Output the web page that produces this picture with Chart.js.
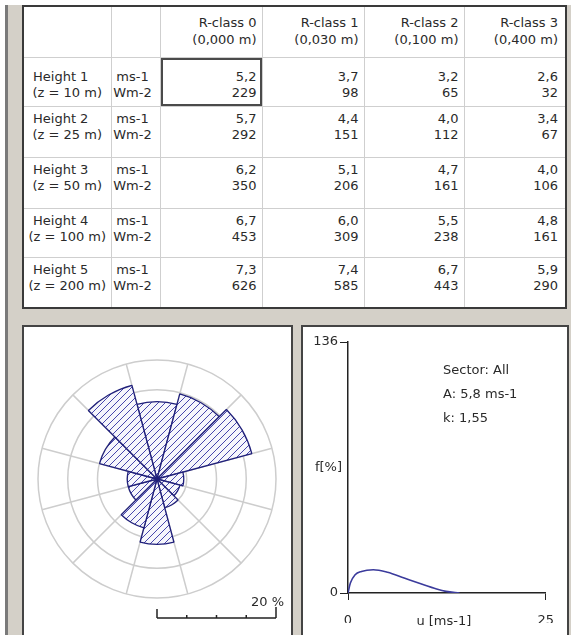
<!DOCTYPE html>
<html>
<head>
<meta charset="utf-8">
<script src="https://cdn.jsdelivr.net/npm/chart.js@4.4.1/dist/chart.umd.min.js"></script>
<style>
body { margin:0; width:571px; height:635px; background:#fff; position:relative; overflow:hidden;
       font-family:"DejaVu Sans", sans-serif; font-size:13px; color:#2a2a2a; }
#frame { position:absolute; left:5px; top:5px; width:563px; height:630px; background:#d4d0c8; border-left:3px solid #7a7a7a; }
#tbl { position:absolute; left:22px; top:5px; border:2px solid #3a3a3a; background:#fff;
       border-collapse:collapse; table-layout:fixed; }
#tbl td { border:1px solid #cfcfcf; padding:0; vertical-align:top; line-height:16px; overflow:hidden; white-space:nowrap; }
#tbl td.num { text-align:right; padding-right:5px; }
#tbl td.last { padding-right:7px; }
#tbl tr.head td { line-height:17px; padding-top:7px; }
#tbl td.unit { text-align:center; padding-right:6px; }
#tbl td.sel { box-shadow: inset 0 0 0 2px #4a4a4a; }
.hname { padding-left:9px; }
.hz { text-align:center; }
.panel { position:absolute; top:325px; height:310px; background:#fff; border-top:2px solid #444; border-left:2px solid #444; border-right:2px solid #444; box-sizing:border-box; }
#roseBox { left:22px; width:271px; }
#weibBox { left:301px; width:268px; }
canvas { position:absolute; left:0; top:0; }
</style>
</head>
<body>
<div id="frame"></div>
<table id="tbl"></table>
<div class="panel" id="roseBox"><canvas id="rose" width="267" height="308"></canvas></div>
<div class="panel" id="weibBox"><canvas id="weibull" width="264" height="308"></canvas></div>
<script>
// table values
var heightNames = ['Height 1', 'Height 2', 'Height 3', 'Height 4', 'Height 5'];
var heightZ = ['(z = 10 m)', '(z = 25 m)', '(z = 50 m)', '(z = 100 m)', '(z = 200 m)'];
var rClasses = ['R-class 0', 'R-class 1', 'R-class 2', 'R-class 3'];
var rLengths = ['(0,000 m)', '(0,030 m)', '(0,100 m)', '(0,400 m)'];
var speedUnit = 'ms-1';
var powerUnit = 'Wm-2';
var meanSpeed = [
    [5.2, 3.7, 3.2, 2.6],
    [5.7, 4.4, 4.0, 3.4],
    [6.2, 5.1, 4.7, 4.0],
    [6.7, 6.0, 5.5, 4.8],
    [7.3, 7.4, 6.7, 5.9]
];
var powerDensity = [
    [229, 98, 65, 32],
    [292, 151, 112, 67],
    [350, 206, 161, 106],
    [453, 309, 238, 161],
    [626, 585, 443, 290]
];

// wind rose: 12 sectors clockwise from north, frequency in %
var sectors = ['0', '30', '60', '90', '120', '150', '180', '210', '240', '270', '300', '330'];
var sectorFreq = [13, 14.8, 16.5, 4.5, 4, 5, 11, 8.5, 5, 5, 10, 16.3];
var roseRings = [5, 10, 15, 20];
var barLabel = '20 %';

// weibull curve
var uSpeed = [0, 0.3, 0.9, 1.7, 3.2, 5.0, 7.1, 9.2, 11.2, 12.4, 14.1];
var fPct = [0, 5.4, 9.9, 11.7, 12.6, 11.2, 8.1, 5.0, 2.2, 0.9, 0];
var xTicks = [0, 25];
var yTicks = [0, 136];
var weibText = ['Sector: All', 'A: 5,8 ms-1', 'k: 1,55'];

var colW = [88, 49, 102, 102, 100, 102];
var rowH = [51, 49, 51, 51, 49, 51];
var font = '13px "DejaVu Sans"';
var ink = '#2a2a2a';

function fmt(v) { return v.toFixed(1).replace('.', ','); }

function buildTable() {
    var t = document.getElementById('tbl');
    var html = '<colgroup>';
    colW.forEach(function (w) { html += '<col style="width:' + w + 'px">'; });
    html += '</colgroup><tr class="head" style="height:' + rowH[0] + 'px"><td></td><td></td>';
    rClasses.forEach(function (c, j) {
        html += '<td class="num' + (j == 3 ? ' last' : '') + '">' + c + '<br>' + rLengths[j] + '</td>';
    });
    html += '</tr>';
    heightNames.forEach(function (h, i) {
        var pt = i == 0 ? 11 : 4;
        html += '<tr style="height:' + rowH[i + 1] + 'px">';
        html += '<td style="padding-top:' + pt + 'px"><div class="hname">' + h + '</div><div class="hz">' + heightZ[i] + '</div></td>';
        html += '<td class="unit" style="padding-top:' + pt + 'px">' + speedUnit + '<br>' + powerUnit + '</td>';
        for (var j = 0; j < rClasses.length; j++) {
            var cls = 'num' + (j == 3 ? ' last' : '') + (i == 0 && j == 0 ? ' sel' : '');
            html += '<td class="' + cls + '" style="padding-top:' + pt + 'px">' + fmt(meanSpeed[i][j]) + '<br>' + powerDensity[i][j] + '</td>';
        }
        html += '</tr>';
    });
    t.innerHTML = html;
}

function hatch() {
    var c = document.createElement('canvas');
    c.width = 7; c.height = 7;
    var g = c.getContext('2d');
    g.fillStyle = '#f6f6fc';
    g.fillRect(0, 0, 7, 7);
    g.strokeStyle = '#4646ac';
    g.lineWidth = 1;
    g.beginPath();
    g.moveTo(0, 7); g.lineTo(7, 0);
    g.moveTo(-1, 1); g.lineTo(1, -1);
    g.moveTo(6, 8); g.lineTo(8, 6);
    g.stroke();
    return g.createPattern(c, 'repeat');
}

var scaleBar = {
    id: 'scaleBar',
    afterDraw: function (chart) {
        var r = chart.scales.r, ctx = chart.ctx;
        var y = chart.height - 17;
        var x0 = r.xCenter;
        var x1 = r.xCenter + r.getDistanceFromCenterForValue(roseRings[roseRings.length - 1]);
        ctx.save();
        ctx.strokeStyle = '#222';
        ctx.lineWidth = 1.5;
        ctx.beginPath();
        ctx.moveTo(x0, y); ctx.lineTo(x1, y);
        ctx.moveTo(x0, y); ctx.lineTo(x0, y - 9);
        roseRings.forEach(function (v, i) {
            var x = r.xCenter + r.getDistanceFromCenterForValue(v);
            var h = i == roseRings.length - 1 ? 11 : 3;
            ctx.moveTo(x, y); ctx.lineTo(x, y - h);
        });
        ctx.stroke();
        ctx.fillStyle = ink;
        ctx.font = font;
        ctx.textAlign = 'right';
        ctx.textBaseline = 'middle';
        ctx.fillText(barLabel, x1 + 8, y - 15);
        ctx.restore();
    }
};

function makeRose() {
    new Chart(document.getElementById('rose'), {
        type: 'polarArea',
        data: {
            labels: sectors,
            datasets: [{
                data: sectorFreq,
                backgroundColor: hatch(),
                borderColor: '#20207a',
                borderWidth: 1.3
            }]
        },
        options: {
            responsive: false,
            animation: false,
            layout: { padding: { left: 14, right: 15, top: 33, bottom: 37 } },
            plugins: { legend: { display: false }, tooltip: { enabled: false } },
            scales: {
                r: {
                    min: 0,
                    max: 20,
                    startAngle: -15,
                    ticks: { display: false, stepSize: 5 },
                    grid: { color: '#cdcdcd', lineWidth: 1.5, circular: true },
                    angleLines: { display: true, color: '#cdcdcd', lineWidth: 1.5 },
                    pointLabels: { display: false }
                }
            }
        },
        plugins: [scaleBar]
    });
}

var weibLabels = {
    id: 'weibLabels',
    afterDraw: function (chart) {
        var ctx = chart.ctx, a = chart.chartArea;
        ctx.save();
        ctx.fillStyle = ink;
        ctx.font = font;
        ctx.textBaseline = 'middle';
        ctx.textAlign = 'left';
        weibText.forEach(function (s, i) {
            ctx.fillText(s, a.left + 95, a.top + 29 + i * 24);
        });
        ctx.textAlign = 'right';
        ctx.fillText('f[%]', a.left - 6, (a.top + a.bottom) / 2);
        ctx.textAlign = 'center';
        ctx.fillText('u [ms-1]', (a.left + a.right) / 2 - 3, a.bottom + 29);
        ctx.restore();
    }
};

function makeWeibull() {
    var pts = uSpeed.map(function (u, i) { return { x: u, y: fPct[i] }; });
    new Chart(document.getElementById('weibull'), {
        type: 'line',
        data: {
            datasets: [{
                data: pts,
                borderColor: '#3b3b9c',
                borderWidth: 1.6,
                pointRadius: 0,
                cubicInterpolationMode: 'monotone',
                fill: false
            }]
        },
        options: {
            responsive: false,
            animation: false,
            layout: { padding: { left: 0, right: 14, top: 15, bottom: 12 } },
            plugins: { legend: { display: false }, tooltip: { enabled: false } },
            scales: {
                x: {
                    type: 'linear', min: 0, max: 25,
                    afterBuildTicks: function (s) { s.ticks = xTicks.map(function (v) { return { value: v }; }); },
                    afterFit: function (s) { s.height = 30; },
                    grid: { drawOnChartArea: false, tickLength: 7, color: '#222' },
                    border: { color: '#222', width: 1.5 },
                    ticks: { padding: 13, color: ink, font: { family: 'DejaVu Sans', size: 13 }, maxRotation: 0, autoSkip: false }
                },
                y: {
                    min: 0, max: 136,
                    afterBuildTicks: function (s) { s.ticks = yTicks.map(function (v) { return { value: v }; }); },
                    afterFit: function (s) { s.width = 45; },
                    grid: { drawOnChartArea: false, tickLength: 8, color: '#222' },
                    border: { color: '#222', width: 1.5 },
                    ticks: { padding: 2, color: ink, font: { family: 'DejaVu Sans', size: 13 }, autoSkip: false }
                }
            }
        },
        plugins: [weibLabels]
    });
}

buildTable();
makeRose();
makeWeibull();
</script>
</body>
</html>
